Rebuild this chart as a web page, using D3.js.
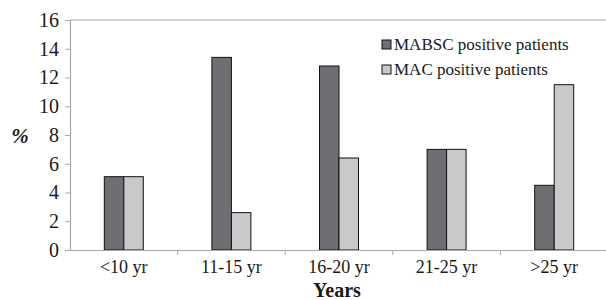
<!DOCTYPE html>
<html>
<head>
<meta charset="utf-8">
<script src="https://cdn.jsdelivr.net/npm/d3@7"></script>
<style>
  body { margin: 0; background: #fff; }
</style>
</head>
<body>
<script>
// data
const groups = ["<10 yr", "11-15 yr", "16-20 yr", "21-25 yr", ">25 yr"];
const mabsc = [5.1, 13.4, 12.8, 7.0, 4.5];
const mac = [5.1, 2.6, 6.4, 7.0, 11.5];
const seriesNames = ["MABSC positive patients", "MAC positive patients"];
const yTicks = [0, 2, 4, 6, 8, 10, 12, 14, 16];

const w = 606, h = 300;
const margin = {left: 70, right: -2, top: 20, bottom: 50};
const colors = ["#6f6f73", "#c8c9cb"];
const serif = "'Times New Roman', 'Liberation Serif', 'DejaVu Serif', serif";

const svg = d3.select("body").append("svg").attr("width", w).attr("height", h)
  .style("font-family", serif);

const x = d3.scaleBand().domain(groups)
  .range([margin.left, w - margin.right]);
const inner = d3.scaleBand().domain([0, 1])
  .range([0, x.bandwidth()]).paddingInner(0).paddingOuter(1.76);
const y = d3.scaleLinear().domain([0, 16]).range([h - margin.bottom, margin.top]);

// top frame line
svg.append("line")
  .attr("x1", margin.left).attr("x2", w)
  .attr("y1", y(16)).attr("y2", y(16))
  .attr("stroke", "#a8a8a8").attr("stroke-width", 1.2);

// bars
const series = [mabsc, mac];
series.forEach((vals, s) => {
  svg.selectAll(".bar" + s)
    .data(vals).enter().append("rect")
    .attr("x", (d, i) => x(groups[i]) + inner(s))
    .attr("y", d => y(d))
    .attr("width", inner.bandwidth())
    .attr("height", d => y(0) - y(d))
    .attr("fill", colors[s])
    .attr("stroke", "#111").attr("stroke-width", 1);
});

// y axis
const yAxis = svg.append("g")
  .attr("transform", `translate(${margin.left},0)`)
  .call(d3.axisLeft(y).tickValues(yTicks).tickSize(5).tickPadding(6));
yAxis.attr("font-family", null).attr("font-size", 20);
yAxis.select(".domain").attr("stroke", "#a8a8a8").attr("stroke-width", 1.2);
yAxis.selectAll(".tick line").attr("stroke", "#a8a8a8");
yAxis.selectAll("text").attr("fill", "#1a1a1a");

// x axis
const xAxis = svg.append("g")
  .attr("transform", `translate(0,${y(0)})`)
  .call(d3.axisBottom(x).tickSize(0).tickPadding(10));
xAxis.attr("font-family", null).attr("font-size", 18);
xAxis.select(".domain").attr("stroke", "#a8a8a8").attr("stroke-width", 1.2);
xAxis.selectAll("text").attr("fill", "#1a1a1a");
// category separators
svg.selectAll(".sep").data(groups.slice(1)).enter().append("line")
  .attr("x1", d => x(d)).attr("x2", d => x(d))
  .attr("y1", y(0)).attr("y2", y(0) + 5)
  .attr("stroke", "#a8a8a8");

// axis titles
svg.append("text").attr("x", 20).attr("y", y(8) + 8)
  .attr("text-anchor", "middle").attr("fill", "#1a1a1a")
  .attr("font-size", 21).attr("font-weight", "bold").attr("font-style", "italic")
  .text("%");
svg.append("text").attr("x", 337).attr("y", 297)
  .attr("text-anchor", "middle").attr("fill", "#1a1a1a")
  .attr("font-size", 20).attr("font-weight", "bold")
  .text("Years");

// legend
const legend = svg.append("g").attr("transform", "translate(382,38)");
seriesNames.forEach((name, i) => {
  const g = legend.append("g").attr("transform", `translate(0,${i * 25})`);
  g.append("rect").attr("x", 0).attr("y", 2).attr("width", 9).attr("height", 9)
    .attr("fill", colors[i]).attr("stroke", "#111").attr("stroke-width", 1);
  g.append("text").attr("x", 12).attr("y", 12).attr("fill", "#1a1a1a")
    .attr("font-size", 17).text(name);
});
</script>
</body>
</html>
